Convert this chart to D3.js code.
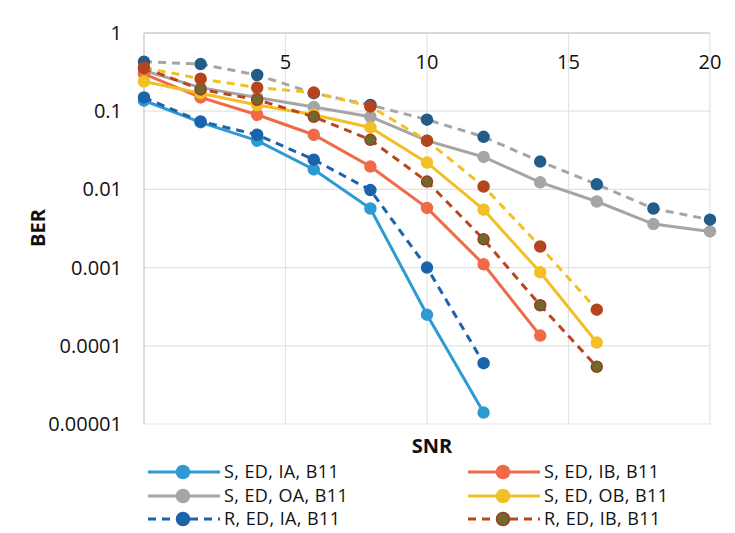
<!DOCTYPE html>
<html><head><meta charset="utf-8">
<script src="https://cdn.jsdelivr.net/npm/d3@7/dist/d3.min.js"></script>
<style>body{margin:0;background:#fff}svg{display:block}text{font-family:"Open Sans","Noto Sans",sans-serif}</style>
</head><body><svg id="c" width="735" height="533"></svg>
<script>
const snr = [0,2,4,6,8,10,12,14,16,18,20];
const seriesNames = ["S, ED, IA, B11","S, ED, OA, B11","R, ED, IA, B11","S, ED, IB, B11","S, ED, OB, B11","R, ED, IB, B11","R, ED, OA, B11","R, ED, OB, B11"];
const sIA  = [0.137,0.072,0.042,0.018,0.0057,0.00025,0.000014];
const sOA  = [0.33,0.2,0.15,0.113,0.085,0.042,0.026,0.0123,0.007,0.0036,0.0029];
const rIA  = [0.15,0.074,0.05,0.024,0.0098,0.001,0.00006];
const sIB  = [0.3,0.15,0.09,0.05,0.0196,0.0058,0.0011,0.000135];
const sOB  = [0.24,0.17,0.12,0.09,0.062,0.022,0.0055,0.00087,0.00011];
const rIB  = [0.36,0.19,0.14,0.085,0.043,0.0126,0.0023,0.00033,0.000054];
const rOA  = [0.43,0.4,0.29,0.17,0.12,0.078,0.047,0.0227,0.0116,0.0057,0.0041];
const rOB  = [0.36,0.26,0.2,0.173,0.115,0.042,0.0109,0.00186,0.00029];
const yTicks = [1,0.1,0.01,0.001,0.0001,0.00001];
const yTickLabels = ["1","0.1","0.01","0.001","0.0001","0.00001"];
const xTicks = [5,10,15,20];

const styles = [
  {line:"#2E9AD2", fill:"#2E9AD2", stroke:"#2E9AD2", dash:null},
  {line:"#A5A5A5", fill:"#A5A5A5", stroke:"#A5A5A5", dash:null},
  {line:"#1C63AE", fill:"#1C63AE", stroke:"#1C63AE", dash:"8,6"},
  {line:"#F06A47", fill:"#F06A47", stroke:"#F06A47", dash:null},
  {line:"#F3BF26", fill:"#F3BF26", stroke:"#F3BF26", dash:null},
  {line:"#B9461E", fill:"#6E6A2C", stroke:"#9A3E22", dash:"8,6"},
  {line:"#A5A5A5", fill:"#215D88", stroke:"#215D88", dash:"8,6"},
  {line:"#F3BF26", fill:"#B5451F", stroke:"#B5451F", dash:"8,6"}
];
const data = [sIA,sOA,rIA,sIB,sOB,rIB,rOA,rOB];

const svg = d3.select("#c");
const x = d3.scaleLinear().domain([0,20]).range([144,710]);
const y = d3.scaleLog().domain([0.00001,1]).range([424,33]);

// gridlines
const g = svg.append("g");
g.selectAll(".hg").data(yTicks).enter().append("line")
  .attr("x1",x(0)).attr("x2",x(20)).attr("y1",d=>y(d)).attr("y2",d=>y(d))
  .attr("stroke","#E3E3E3").attr("stroke-width",1.2);
g.selectAll(".vg").data(xTicks).enter().append("line")
  .attr("x1",d=>x(d)).attr("x2",d=>x(d)).attr("y1",y(1)).attr("y2",y(0.00001))
  .attr("stroke","#E3E3E3").attr("stroke-width",1.2);
// axis lines
g.append("line").attr("x1",x(0)).attr("x2",x(0)).attr("y1",y(1)).attr("y2",y(0.00001)).attr("stroke","#CFCFCF").attr("stroke-width",1.5);
g.append("line").attr("x1",x(0)).attr("x2",x(20)).attr("y1",y(1)).attr("y2",y(1)).attr("stroke","#CFCFCF").attr("stroke-width",1.5);

// y tick labels
svg.selectAll(".yl").data(yTicks).enter().append("text")
  .attr("x",122).attr("y",d=>y(d)).attr("dy","0.35em").attr("text-anchor","end")
  .attr("font-size",20).attr("fill","#111").text((d,i)=>yTickLabels[i]);
// x tick labels
svg.selectAll(".xl").data(xTicks).enter().append("text")
  .attr("x",d=>x(d)).attr("y",y(1)+29).attr("dy","0.35em").attr("text-anchor","middle")
  .attr("font-size",20).attr("fill","#111").text(d=>d);

// titles
svg.append("text").attr("transform","translate(38,228) rotate(-90)").attr("text-anchor","middle")
  .attr("font-size",20).attr("font-weight","bold").attr("fill","#111").attr("dy","0.35em").text("BER");
svg.append("text").attr("x",432).attr("y",446).attr("text-anchor","middle").attr("dy","0.35em")
  .attr("font-size",20).attr("font-weight","bold").attr("fill","#111").text("SNR");

// series
const line = d3.line().x(d=>x(d[0])).y(d=>y(d[1]));
data.forEach((vals,i)=>{
  const pts = vals.map((v,j)=>[snr[j],v]);
  const st = styles[i];
  const sg = svg.append("g");
  sg.append("path").datum(pts).attr("d",line).attr("fill","none")
    .attr("stroke",st.line).attr("stroke-width",3).attr("stroke-dasharray",st.dash);
  sg.selectAll("circle").data(pts).enter().append("circle")
    .attr("cx",d=>x(d[0])).attr("cy",d=>y(d[1])).attr("r",5.5)
    .attr("fill",st.fill).attr("stroke",st.stroke).attr("stroke-width",1.5);
});

// legend (first six)
const legPos = [[148,472],[148,496],[148,519],[468,472],[468,496],[468,519]];
for(let i=0;i<6;i++){
  const st = styles[i];
  const [lx,ly] = legPos[i];
  const lg = svg.append("g");
  lg.append("line").attr("x1",lx).attr("x2",lx+72).attr("y1",ly).attr("y2",ly)
    .attr("stroke",st.line).attr("stroke-width",3).attr("stroke-dasharray",st.dash?"8,6":null);
  lg.append("circle").attr("cx",lx+35).attr("cy",ly).attr("r",6.5).attr("fill",st.fill).attr("stroke",st.stroke).attr("stroke-width",1.5);
  lg.append("text").attr("x",lx+76).attr("y",ly).attr("dy","0.35em").attr("font-size",18).attr("letter-spacing",0.4).attr("fill","#111").text(seriesNames[i]);
}
</script></body></html>
